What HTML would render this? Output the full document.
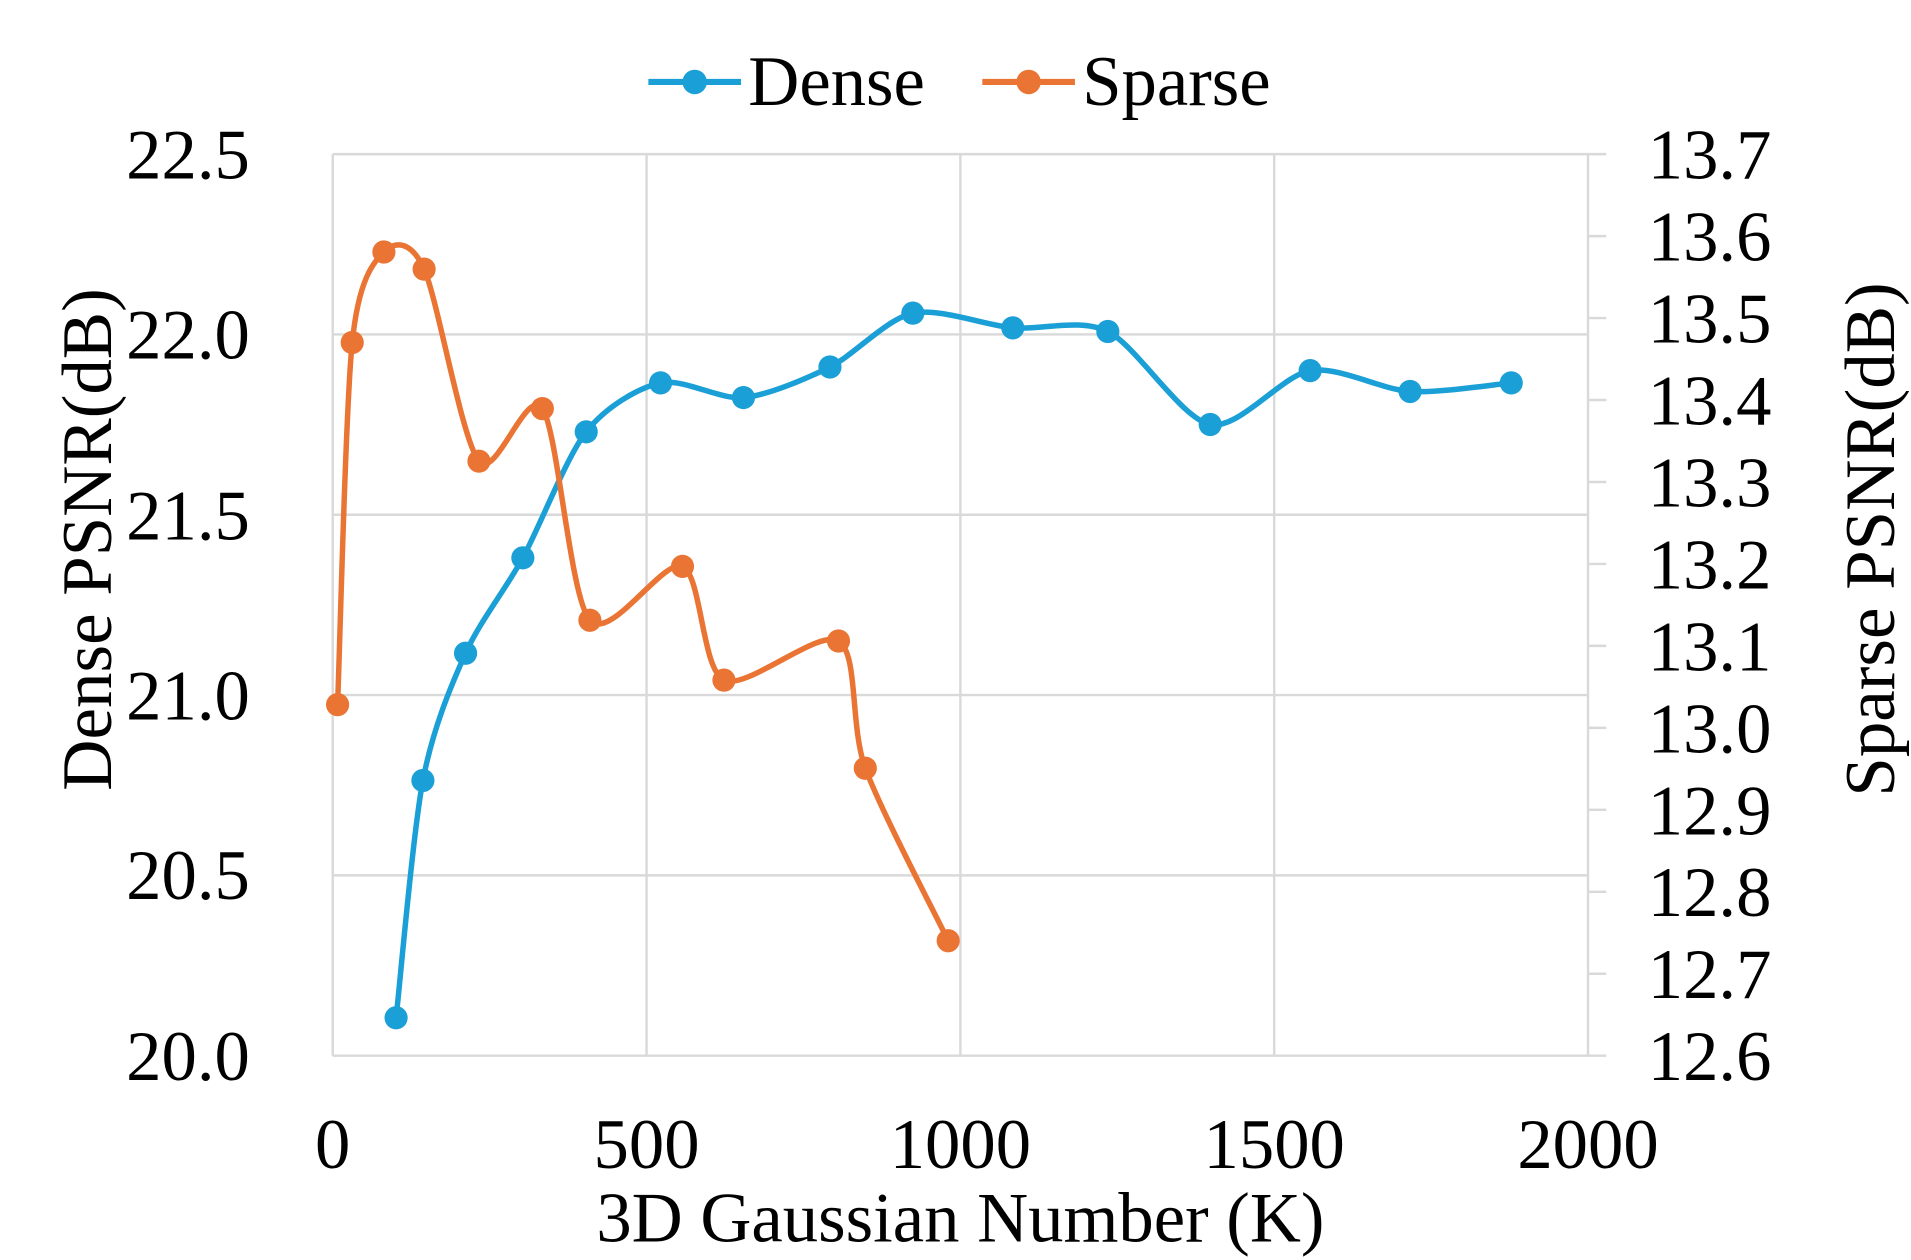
<!DOCTYPE html>
<html><head><meta charset="utf-8"><style>html,body{margin:0;padding:0;background:#fff;width:1911px;height:1260px;overflow:hidden}</style></head>
<body>
<svg id="s" width="1911" height="1260" viewBox="0 0 1568 1030" preserveAspectRatio="none" xmlns="http://www.w3.org/2000/svg" font-family="Liberation Serif, serif" fill="#000">
<g stroke="#d9d9d9" stroke-width="2">
<line x1="273" y1="126" x2="1303" y2="126"/><line x1="273" y1="273.4" x2="1303" y2="273.4"/>
<line x1="273" y1="420.8" x2="1303" y2="420.8"/><line x1="273" y1="568.2" x2="1303" y2="568.2"/>
<line x1="273" y1="715.6" x2="1303" y2="715.6"/><line x1="273" y1="863" x2="1303" y2="863"/>
<line x1="273" y1="126" x2="273" y2="863"/><line x1="530.5" y1="126" x2="530.5" y2="863"/>
<line x1="788" y1="126" x2="788" y2="863"/><line x1="1045.5" y1="126" x2="1045.5" y2="863"/>
<line x1="1303" y1="126" x2="1303" y2="863"/>
<g id="rt"></g>
</g>
<g font-size="58" text-anchor="end">
<text x="205" y="146">22.5</text><text x="205" y="293">22.0</text><text x="205" y="441">21.5</text>
<text x="205" y="588">21.0</text><text x="205" y="735">20.5</text><text x="205" y="883">20.0</text>
</g>
<g font-size="58" text-anchor="start" id="rl"></g>
<g font-size="58" text-anchor="middle">
<text x="273" y="955">0</text><text x="530.5" y="955">500</text><text x="788" y="955">1000</text>
<text x="1045.5" y="955">1500</text><text x="1303" y="955">2000</text>
<text x="788" y="1015">3D Gaussian Number (K)</text>
<text transform="translate(91,441) rotate(-90)">Dense PSNR(dB)</text>
<text transform="translate(1554,441) rotate(-90)">Sparse PSNR(dB)</text>
</g>
<g font-size="58">
<line x1="532" y1="67" x2="608" y2="67" stroke="#1a9fd6" stroke-width="5"/><circle cx="570" cy="67" r="10" fill="#1a9fd6"/>
<text x="614" y="86">Dense</text>
<line x1="806" y1="67" x2="882" y2="67" stroke="#ea7433" stroke-width="5"/><circle cx="844" cy="67" r="10" fill="#ea7433"/>
<text x="888" y="86">Sparse</text>
</g>
<g id="series"></g>
</svg>
<script>
var NS="http://www.w3.org/2000/svg";
var rt=document.getElementById('rt'),rl=document.getElementById('rl');
for(var i=0;i<=11;i++){var y=863-i*67;var l=document.createElementNS(NS,'line');l.setAttribute('x1',1303);l.setAttribute('x2',1318);l.setAttribute('y1',y);l.setAttribute('y2',y);rt.appendChild(l);
if(i==0||i==11||true){var t=document.createElementNS(NS,'text');t.setAttribute('x',1352);t.setAttribute('y',y+20);t.textContent=(12.6+i*0.1).toFixed(1);rl.appendChild(t);}}
var dense=[[325,832],[347,638],[382,534],[429,456],[481,353],[542,313],[610,325],[681,300],[749,256],[831,268],[909,271],[993,347],[1075,303],[1157,320],[1240,313]];
var sparse=[[277,576],[289,280],[315,206],[348,220],[393,377],[445,334],[484,507],[560,463],[594,556],[688,524],[710,628],[778,769]];
function path(p){var d="M"+p[0][0]+","+p[0][1];for(var i=0;i<p.length-1;i++){var p0=p[i-1]||p[i],p1=p[i],p2=p[i+1],p3=p[i+2]||p2;var t=7;
d+=" C"+(p1[0]+(p2[0]-p0[0])/t)+","+(p1[1]+(p2[1]-p0[1])/t)+" "+(p2[0]-(p3[0]-p1[0])/t)+","+(p2[1]-(p3[1]-p1[1])/t)+" "+p2[0]+","+p2[1];}return d;}
var g=document.getElementById('series');
[[dense,'#1a9fd6'],[sparse,'#ea7433']].forEach(function(s){var pa=document.createElementNS(NS,'path');pa.setAttribute('d',path(s[0]));pa.setAttribute('fill','none');pa.setAttribute('stroke',s[1]);pa.setAttribute('stroke-width',4.5);g.appendChild(pa);
s[0].forEach(function(q){var c=document.createElementNS(NS,'circle');c.setAttribute('cx',q[0]);c.setAttribute('cy',q[1]);c.setAttribute('r',9.5);c.setAttribute('fill',s[1]);g.appendChild(c);});});
</script>
</body></html>
